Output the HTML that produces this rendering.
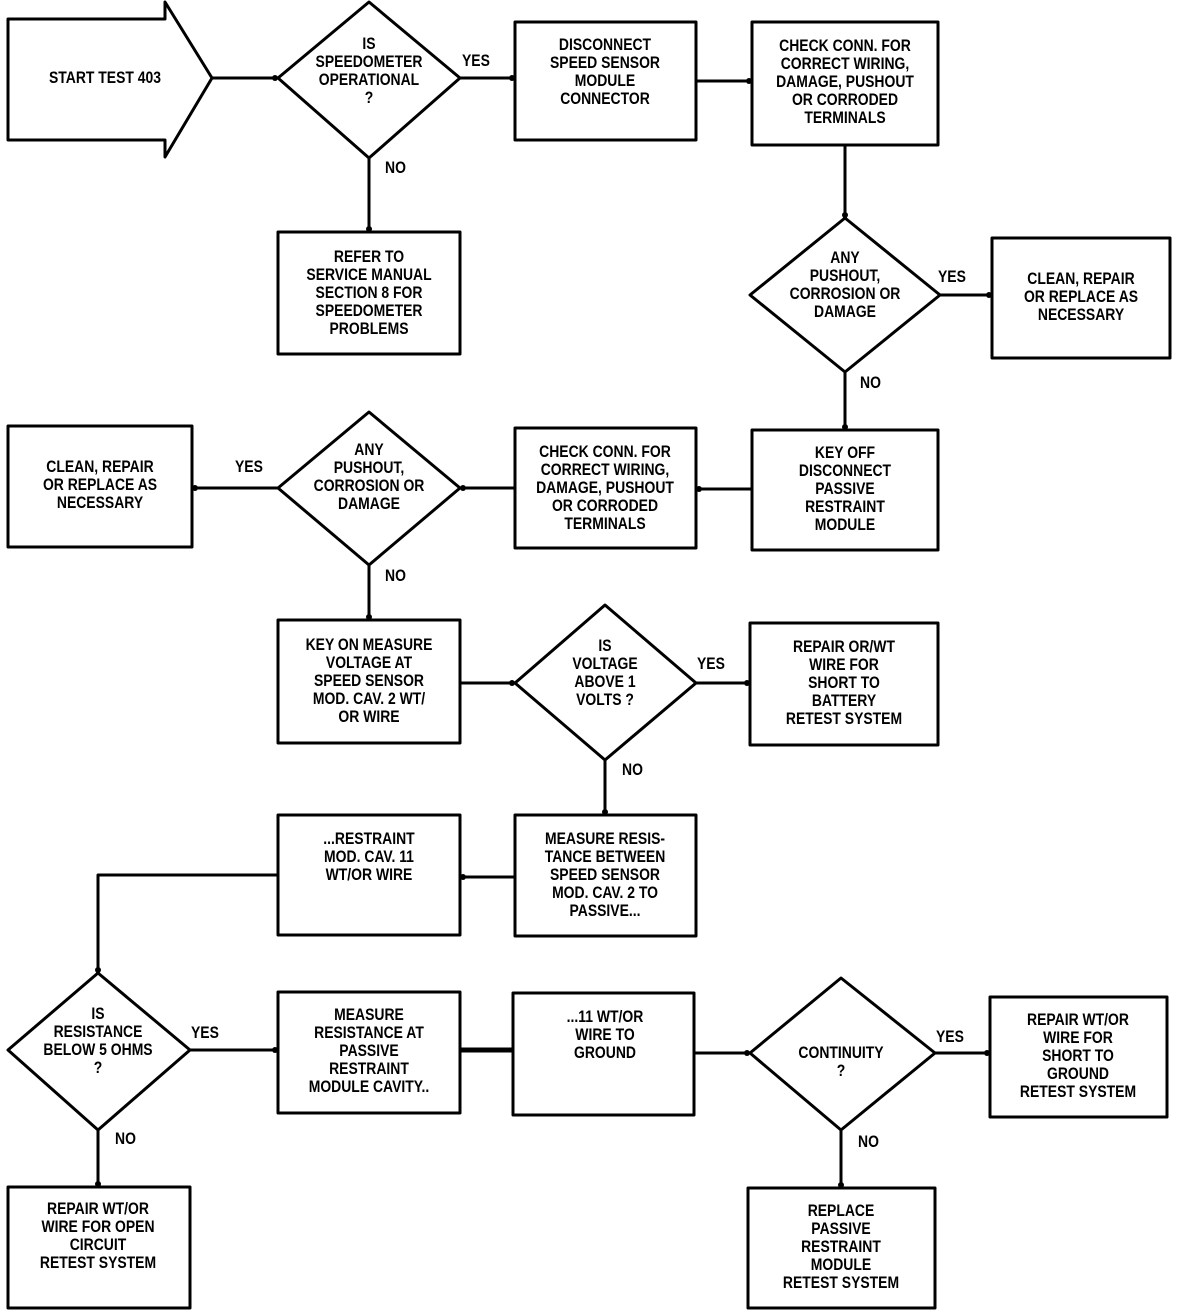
<!DOCTYPE html>
<html><head><meta charset="utf-8"><style>
html,body{margin:0;padding:0;background:#fff;}
#c{position:relative;width:1184px;height:1314px;overflow:hidden;}
svg{position:absolute;left:0;top:0;}
.t{position:absolute;text-align:center;font-family:"Liberation Sans",sans-serif;font-weight:bold;font-size:17px;line-height:18px;color:#000;white-space:nowrap;transform:translateX(-50%) scaleX(0.82);}
.l{position:absolute;font-family:"Liberation Sans",sans-serif;font-weight:bold;font-size:17px;line-height:18px;transform:scaleX(0.82);transform-origin:left;}
</style></head><body><div id="c">
<svg width="1184" height="1314" viewBox="0 0 1184 1314" fill="none" stroke="#000" stroke-width="3" stroke-linejoin="round">
<polygon points="8,19 165,19 165,2 212,78 165,157 165,140 8,140"/>
<polygon points="369,2 460,78 369,158 278,78"/>
<rect x="515" y="22" width="181" height="118"/>
<rect x="752" y="22" width="186" height="123"/>
<rect x="278" y="232" width="182" height="122"/>
<polygon points="845,218 940,295 845,372 750,295"/>
<rect x="992" y="238" width="178" height="120"/>
<rect x="752" y="430" width="186" height="120"/>
<rect x="515" y="428" width="181" height="120"/>
<polygon points="369,412 460,488 369,565 278,488"/>
<rect x="8" y="426" width="184" height="121"/>
<rect x="278" y="620" width="182" height="123"/>
<polygon points="605,605 696,683 605,760 515,683"/>
<rect x="750" y="623" width="188" height="122"/>
<rect x="515" y="815" width="181" height="121"/>
<rect x="278" y="815" width="182" height="120"/>
<polygon points="98,973 190,1050 98,1130 8,1050"/>
<rect x="278" y="992" width="182" height="121"/>
<rect x="513" y="993" width="181" height="122"/>
<polygon points="841,978 935,1053 841,1130 750,1053"/>
<rect x="990" y="997" width="177" height="120"/>
<rect x="748" y="1188" width="187" height="120"/>
<rect x="8" y="1187" width="182" height="121"/>
<g>
<path d="M212,78H278 M460,78H515 M696,81H752 M369,158V232 M845,145V218 M940,295H992 M845,372V430 M752,489H696 M515,488H460 M278,488H192 M369,565V620 M460,683H515 M696,683H750 M605,760V815 M515,877H460 M278,875H98V973 M190,1050H278 M694,1053H750 M935,1053H990 M841,1130V1188 M98,1130V1187"/>
<path d="M460,1050H513" stroke-width="5"/>
</g>
<g fill="#000" stroke="none">
<circle cx="275" cy="78" r="3"/><circle cx="512" cy="78" r="3"/><circle cx="749" cy="81" r="3"/>
<circle cx="369" cy="229" r="3"/><circle cx="845" cy="215" r="3"/><circle cx="989" cy="295" r="3"/>
<circle cx="845" cy="427" r="3"/><circle cx="699" cy="489" r="3"/><circle cx="463" cy="488" r="3"/>
<circle cx="195" cy="488" r="3"/><circle cx="369" cy="617" r="3"/><circle cx="512" cy="683" r="3"/>
<circle cx="747" cy="683" r="3"/><circle cx="605" cy="812" r="3"/><circle cx="463" cy="877" r="3"/>
<circle cx="98" cy="970" r="3"/><circle cx="275" cy="1050" r="3"/><circle cx="747" cy="1053" r="3"/>
<circle cx="987" cy="1053" r="3"/><circle cx="841" cy="1185" r="3"/><circle cx="98" cy="1184" r="3"/>
</g>
</svg>
<div class="t" style="left:105px;top:69px">START TEST 403</div>
<div class="t" style="left:369px;top:35px">IS<br>SPEEDOMETER<br>OPERATIONAL<br>?</div>
<div class="t" style="left:605px;top:36px">DISCONNECT<br>SPEED SENSOR<br>MODULE<br>CONNECTOR</div>
<div class="t" style="left:845px;top:37px">CHECK CONN. FOR<br>CORRECT WIRING,<br>DAMAGE, PUSHOUT<br>OR CORRODED<br>TERMINALS</div>
<div class="t" style="left:369px;top:248px">REFER TO<br>SERVICE MANUAL<br>SECTION 8 FOR<br>SPEEDOMETER<br>PROBLEMS</div>
<div class="t" style="left:845px;top:249px">ANY<br>PUSHOUT,<br>CORROSION OR<br>DAMAGE</div>
<div class="t" style="left:1081px;top:270px">CLEAN, REPAIR<br>OR REPLACE AS<br>NECESSARY</div>
<div class="t" style="left:845px;top:444px">KEY OFF<br>DISCONNECT<br>PASSIVE<br>RESTRAINT<br>MODULE</div>
<div class="t" style="left:605px;top:443px">CHECK CONN. FOR<br>CORRECT WIRING,<br>DAMAGE, PUSHOUT<br>OR CORRODED<br>TERMINALS</div>
<div class="t" style="left:369px;top:441px">ANY<br>PUSHOUT,<br>CORROSION OR<br>DAMAGE</div>
<div class="t" style="left:100px;top:458px">CLEAN, REPAIR<br>OR REPLACE AS<br>NECESSARY</div>
<div class="t" style="left:369px;top:636px">KEY ON MEASURE<br>VOLTAGE AT<br>SPEED SENSOR<br>MOD. CAV. 2 WT/<br>OR WIRE</div>
<div class="t" style="left:605px;top:637px">IS<br>VOLTAGE<br>ABOVE 1<br>VOLTS ?</div>
<div class="t" style="left:844px;top:638px">REPAIR OR/WT<br>WIRE FOR<br>SHORT TO<br>BATTERY<br>RETEST SYSTEM</div>
<div class="t" style="left:605px;top:830px">MEASURE RESIS-<br>TANCE BETWEEN<br>SPEED SENSOR<br>MOD. CAV. 2 TO<br>PASSIVE...</div>
<div class="t" style="left:369px;top:830px">...RESTRAINT<br>MOD. CAV. 11<br>WT/OR WIRE</div>
<div class="t" style="left:98px;top:1005px">IS<br>RESISTANCE<br>BELOW 5 OHMS<br>?</div>
<div class="t" style="left:369px;top:1006px">MEASURE<br>RESISTANCE AT<br>PASSIVE<br>RESTRAINT<br>MODULE CAVITY..</div>
<div class="t" style="left:605px;top:1008px">...11 WT/OR<br>WIRE TO<br>GROUND</div>
<div class="t" style="left:841px;top:1044px">CONTINUITY<br>?</div>
<div class="t" style="left:1078px;top:1011px">REPAIR WT/OR<br>WIRE FOR<br>SHORT TO<br>GROUND<br>RETEST SYSTEM</div>
<div class="t" style="left:841px;top:1202px">REPLACE<br>PASSIVE<br>RESTRAINT<br>MODULE<br>RETEST SYSTEM</div>
<div class="t" style="left:98px;top:1200px">REPAIR WT/OR<br>WIRE FOR OPEN<br>CIRCUIT<br>RETEST SYSTEM</div>
<div class="l" style="left:462px;top:52px">YES</div>
<div class="l" style="left:385px;top:159px">NO</div>
<div class="l" style="left:938px;top:268px">YES</div>
<div class="l" style="left:860px;top:374px">NO</div>
<div class="l" style="left:235px;top:458px">YES</div>
<div class="l" style="left:385px;top:567px">NO</div>
<div class="l" style="left:697px;top:655px">YES</div>
<div class="l" style="left:622px;top:761px">NO</div>
<div class="l" style="left:191px;top:1024px">YES</div>
<div class="l" style="left:115px;top:1130px">NO</div>
<div class="l" style="left:936px;top:1028px">YES</div>
<div class="l" style="left:858px;top:1133px">NO</div>
</div></body></html>
